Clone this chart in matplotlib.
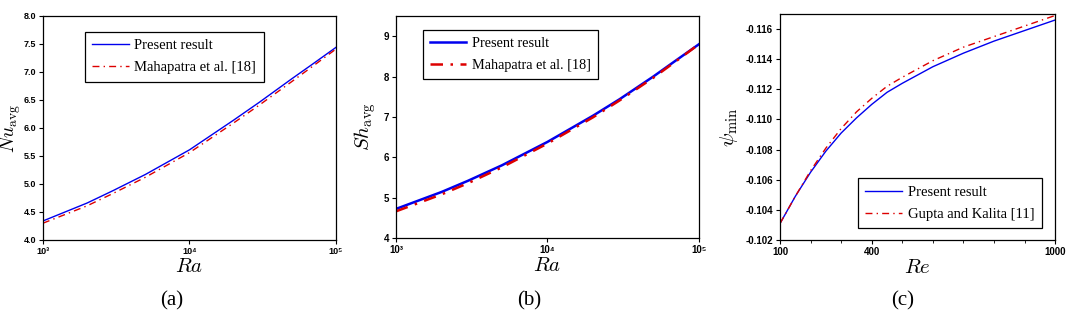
import numpy as np
import matplotlib
matplotlib.use('Agg')
import matplotlib.pyplot as plt
from matplotlib.ticker import NullLocator, MultipleLocator

plt.rcParams['mathtext.fontset'] = 'cm'

# (a) average Nusselt number
ra = [1e3, 2e3, 3e3, 5e3, 1e4, 2e4, 3e4, 5e4, 7e4, 1e5]
nu_present = [4.34, 4.66, 4.88, 5.17, 5.61, 6.14, 6.46, 6.88, 7.15, 7.44]
nu_mahapatra = [4.30, 4.61, 4.83, 5.12, 5.56, 6.09, 6.41, 6.83, 7.11, 7.41]

# (b) average Sherwood number
sh_present = [4.72, 5.14, 5.42, 5.80, 6.38, 7.03, 7.44, 8.00, 8.39, 8.80]
sh_mahapatra = [4.66, 5.08, 5.36, 5.75, 6.34, 6.99, 7.41, 7.97, 8.37, 8.80]

# (c) minimum stream function
re = [100, 150, 200, 250, 300, 350, 400, 450, 500, 600, 700, 800, 900, 1000]
psi_present = [-0.1031, -0.1049, -0.1065, -0.1079, -0.1091, -0.1101, -0.1110,
               -0.1118, -0.1124, -0.1135, -0.1144, -0.1152, -0.1159, -0.1166]
psi_gupta = [-0.1031, -0.1049, -0.1066, -0.1081, -0.1094, -0.1105, -0.1114,
             -0.1122, -0.1128, -0.1139, -0.1148, -0.1155, -0.1162, -0.1169]

ra_ticks = [1e3, 1e4, 1e5]
ra_labels = ['10\u00b3', '10\u2074', '10\u2075']

tick_family = ['Liberation Sans', 'DejaVu Sans']
serif = ['Liberation Serif', 'DejaVu Serif']
blue = '#0000ee'
red = '#dd0000'
dashdot = (0, (5, 3, 1, 3))

fig = plt.figure(figsize=(10.69, 3.18), dpi=100)
ax1 = fig.add_axes([0.0402, 0.2453, 0.2741, 0.7044])
ax2 = fig.add_axes([0.3704, 0.2516, 0.2834, 0.6981])
ax3 = fig.add_axes([0.7297, 0.2453, 0.2573, 0.7107])


def style(ax, size):
    ax.tick_params(direction='out', length=3, width=0.8, top=False, right=False,
                   labelsize=size, pad=2)
    ax.tick_params(which='minor', direction='out', length=2, width=0.6)
    for lab in ax.get_xticklabels() + ax.get_yticklabels():
        lab.set_fontfamily(tick_family)
        lab.set_fontweight('bold')
    for s in ax.spines.values():
        s.set_linewidth(0.9)


def legend(ax, anchor, loc, size):
    lg = ax.legend(loc=loc, bbox_to_anchor=anchor, prop={'family': serif, 'size': size},
                   fancybox=False, framealpha=1, edgecolor='black', handlelength=2.5,
                   handletextpad=0.4, labelspacing=0.6, borderpad=0.5,
                   borderaxespad=0)
    lg.get_frame().set_linewidth(0.9)


# (a)
ax1.plot(ra, nu_present, color=blue, lw=1.0, label='Present result')
ax1.plot(ra, nu_mahapatra, color=red, lw=1.0, ls=dashdot, label='Mahapatra et al. [18]')
ax1.set_xscale('log')
ax1.set_xlim(1e3, 1e5)
ax1.set_ylim(4.0, 8.0)
ax1.set_xticks(ra_ticks)
ax1.set_xticklabels(ra_labels)
ax1.xaxis.set_minor_locator(NullLocator())
ax1.set_yticks(np.arange(4.0, 8.01, 0.5))
ax1.set_yticklabels(['%.1f' % v for v in np.arange(4.0, 8.01, 0.5)])
style(ax1, 6.5)
ax1.set_xlabel(r'$Ra$', fontsize=15, labelpad=0)
ax1.set_ylabel(r'$Nu_{\rm avg}$', fontsize=14, labelpad=0)
legend(ax1, (0.143, 0.929), 'upper left', 10.5)

# (b)
ax2.plot(ra, sh_present, color=blue, lw=1.8, label='Present result')
ax2.plot(ra, sh_mahapatra, color=red, lw=1.8, ls=dashdot, label='Mahapatra et al. [18]')
ax2.set_xscale('log')
ax2.set_xlim(1e3, 1e5)
ax2.set_ylim(4, 9.5)
ax2.set_xticks(ra_ticks)
ax2.set_xticklabels(ra_labels)
ax2.xaxis.set_minor_locator(NullLocator())
ax2.set_yticks([4, 5, 6, 7, 8, 9])
style(ax2, 7)
ax2.set_xlabel(r'$Ra$', fontsize=15, labelpad=0)
ax2.set_ylabel(r'$Sh_{\rm avg}$', fontsize=15, labelpad=4)
legend(ax2, (0.089, 0.937), 'upper left', 10.3)

# (c)
ax3.plot(re, psi_present, color=blue, lw=1.0, label='Present result')
ax3.plot(re, psi_gupta, color=red, lw=1.0, ls=dashdot, label='Gupta and Kalita [11]')
ax3.set_xlim(100, 1000)
ax3.set_ylim(-0.102, -0.117)
ax3.set_xticks([100, 400, 1000])
ax3.xaxis.set_minor_locator(MultipleLocator(100))
yt = np.arange(-0.102, -0.1161, -0.002)
ax3.set_yticks(yt)
ax3.set_yticklabels(['%.3f' % v for v in yt])
style(ax3, 7)
ax3.set_xlabel(r'$Re$', fontsize=15, labelpad=0)
ax3.set_ylabel(r'$\psi_{\rm min}$', fontsize=15, labelpad=4)
legend(ax3, (0.284, 0.053), 'lower left', 10.5)

for x, t in [(0.161, '(a)'), (0.495, '(b)'), (0.844, '(c)')]:
    fig.text(x, 0.055, t, ha='center', va='center', family=serif, fontsize=15)

fig.savefig('out.png', dpi=100)
